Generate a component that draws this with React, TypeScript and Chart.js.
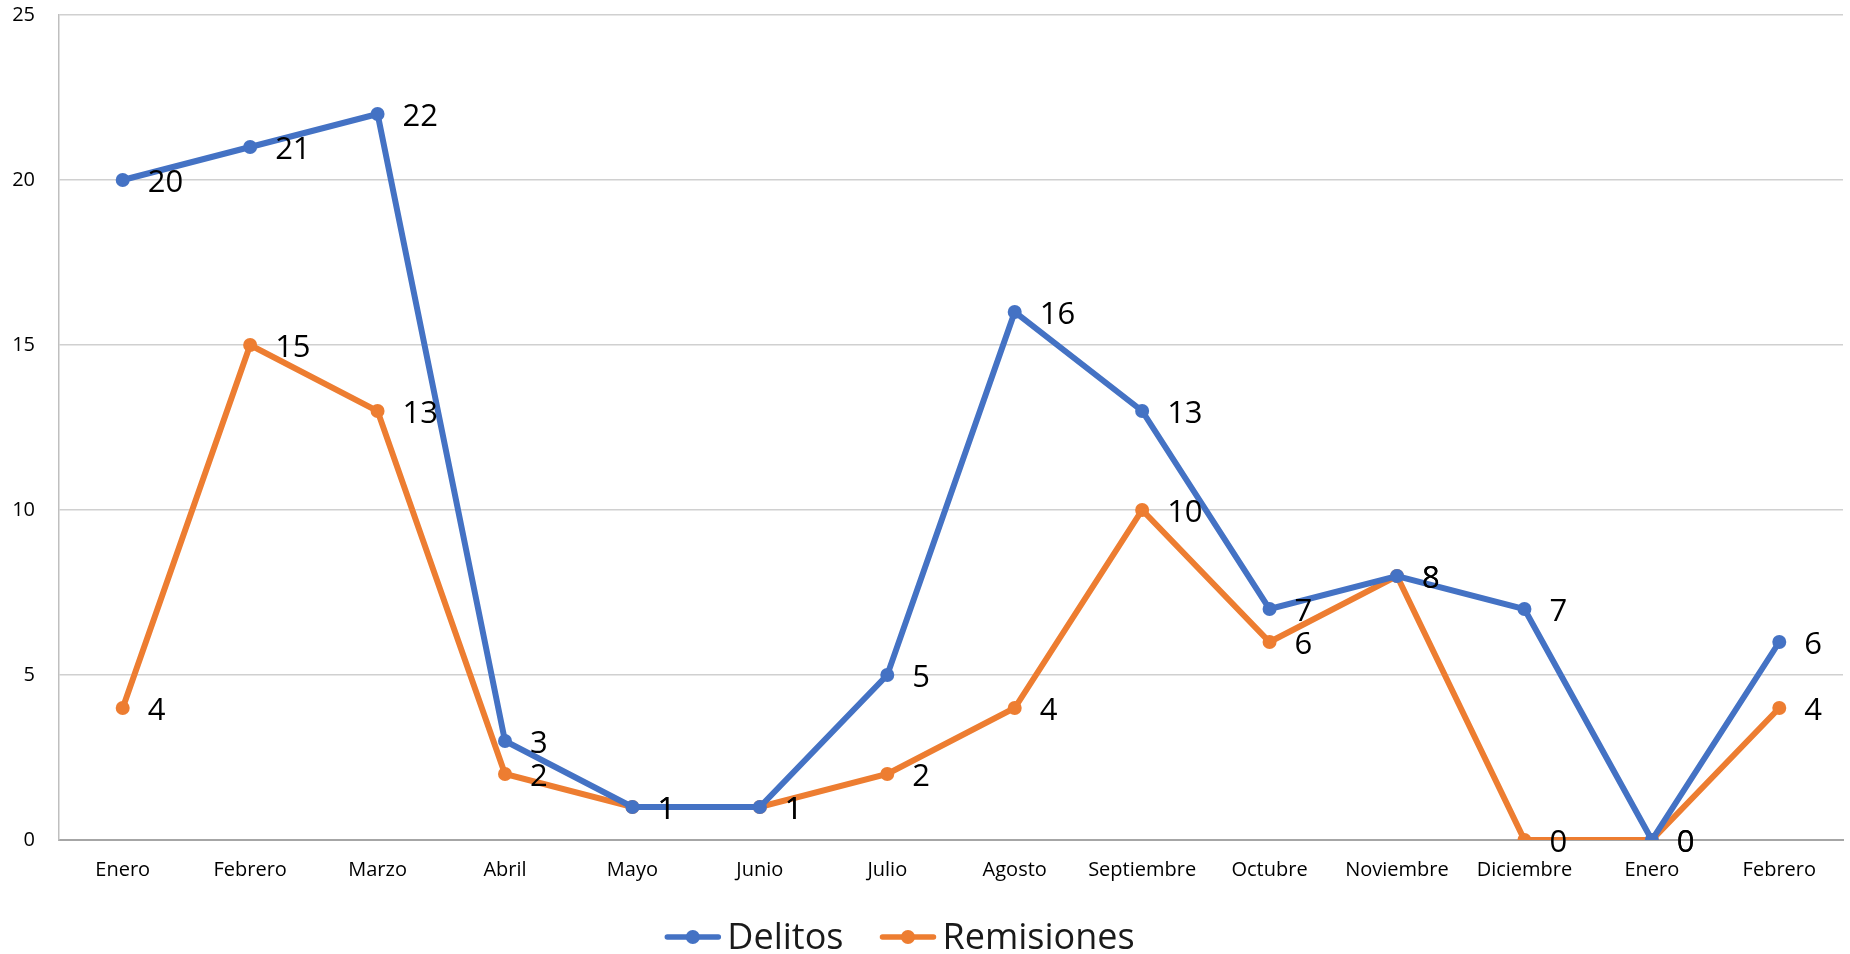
import React, { useEffect, useRef } from "react";
import { Chart, registerables } from "chart.js";

Chart.register(...registerables);

const categories = [
  "Enero", "Febrero", "Marzo", "Abril", "Mayo", "Junio", "Julio",
  "Agosto", "Septiembre", "Octubre", "Noviembre", "Diciembre", "Enero", "Febrero",
];
const delitos = [20, 21, 22, 3, 1, 1, 5, 16, 13, 7, 8, 7, 0, 6];
const remisiones = [4, 15, 13, 2, 1, 1, 2, 4, 10, 6, 8, 0, 0, 4];
const seriesNames = ["Delitos", "Remisiones"];
const seriesColors = ["#4472C4", "#ED7D31"];
const yMin = 0;
const yMax = 25;
const yStep = 5;

const FONT = "'Open Sans', sans-serif";

const dataLabelPlugin = {
  id: "dataLabels",
  afterDatasetsDraw(chart: any) {
    const ctx = chart.ctx;
    ctx.save();
    ctx.font = `31px ${FONT}`;
    ctx.fillStyle = "#000000";
    ctx.textAlign = "left";
    ctx.textBaseline = "middle";
    chart.data.datasets.forEach((ds: any, di: number) => {
      const meta = chart.getDatasetMeta(di);
      meta.data.forEach((pt: any, i: number) => {
        ctx.fillText(String(ds.data[i]), pt.x + 25, pt.y + 3);
      });
    });
    ctx.restore();
  },
};

const legendPlugin = {
  id: "customLegend",
  afterDraw(chart: any) {
    const ctx = chart.ctx;
    ctx.save();
    ctx.font = `36px ${FONT}`;
    const lineLen = 55;
    const gapText = 7;
    const gapItems = 37;
    const widths = seriesNames.map((n) => ctx.measureText(n).width);
    const total = widths.reduce((a, w) => a + lineLen + gapText + w, 0) + gapItems * (seriesNames.length - 1);
    let x = 900 - total / 2;
    const yLine = 937;
    const yText = 949;
    seriesNames.forEach((name, i) => {
      ctx.strokeStyle = seriesColors[i];
      ctx.lineWidth = 5.5;
      ctx.lineCap = "round";
      ctx.beginPath();
      ctx.moveTo(x + 2, yLine);
      ctx.lineTo(x + lineLen - 2, yLine);
      ctx.stroke();
      ctx.fillStyle = seriesColors[i];
      ctx.beginPath();
      ctx.arc(x + lineLen / 2, yLine, 7, 0, Math.PI * 2);
      ctx.fill();
      ctx.fillStyle = "#1a1a1a";
      ctx.textAlign = "left";
      ctx.textBaseline = "alphabetic";
      ctx.fillText(name, x + lineLen + gapText, yText);
      x += lineLen + gapText + widths[i] + gapItems;
    });
    ctx.restore();
  },
};

export default function App() {
  const canvasRef = useRef<HTMLCanvasElement | null>(null);

  useEffect(() => {
    document.body.style.margin = "0";
    const canvas = canvasRef.current;
    if (!canvas) return;
    const chart = new Chart(canvas, {
      type: "line",
      data: {
        labels: categories,
        datasets: [
          {
            label: seriesNames[0],
            data: delitos,
            borderColor: seriesColors[0],
            backgroundColor: seriesColors[0],
            borderWidth: 6,
            pointRadius: 7,
            pointBackgroundColor: seriesColors[0],
            pointBorderWidth: 0,
            tension: 0,
          },
          {
            label: seriesNames[1],
            data: remisiones,
            borderColor: seriesColors[1],
            backgroundColor: seriesColors[1],
            borderWidth: 6,
            pointRadius: 7,
            pointBackgroundColor: seriesColors[1],
            pointBorderWidth: 0,
            tension: 0,
          },
        ],
      },
      options: {
        responsive: false,
        animation: false,
        layout: { padding: { top: 15, right: 2, left: 0, bottom: 0 } },
        plugins: {
          legend: { display: false },
          tooltip: { enabled: false },
          title: { display: false },
        },
        scales: {
          x: {
            offset: true,
            grid: { display: false, drawTicks: false },
            border: { display: true, color: "#a6a6a6", width: 2 },
            ticks: {
              color: "#000000",
              font: { family: FONT, size: 20 },
              padding: 18,
              maxRotation: 0,
              autoSkip: false,
            },
            afterFit(scale: any) {
              scale.height = 114;
              scale.paddingLeft = 0;
              scale.paddingRight = 0;
            },
          },
          y: {
            min: yMin,
            max: yMax,
            grid: { color: "#d0d0d0", lineWidth: 1.5, drawTicks: false },
            border: { display: true, color: "#bfbfbf", width: 1.5 },
            ticks: {
              stepSize: yStep,
              color: "#000000",
              font: { family: FONT, size: 20 },
              padding: 24,
            },
            afterFit(scale: any) {
              scale.width = 59;
              scale.paddingTop = 0;
              scale.paddingBottom = 0;
            },
          },
        },
      },
      plugins: [dataLabelPlugin, legendPlugin],
    });
    return () => chart.destroy();
  }, []);

  return (
    <div style={{ position: "fixed", left: 0, top: 0, width: 1850, height: 954, background: "#ffffff" }}>
      <canvas ref={canvasRef} width={1850} height={954} />
    </div>
  );
}
